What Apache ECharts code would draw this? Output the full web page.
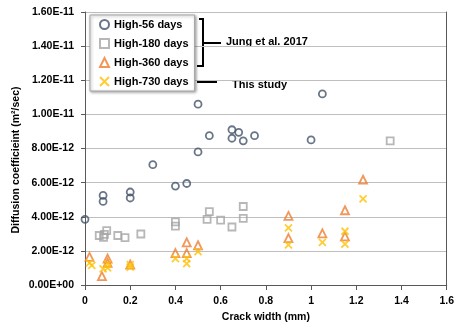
<!DOCTYPE html>
<html>
<head>
<meta charset="utf-8">
<script src="https://cdn.jsdelivr.net/npm/echarts@6/dist/echarts.min.js"></script>
<style>
  html, body { margin: 0; padding: 0; background: #fff; }
  #chart { width: 457px; height: 328px; }
</style>
</head>
<body>
<div id="chart"></div>
<script>
// values: [crack width (mm), diffusion coefficient in units of 1e-12 m2/sec]
const Y_UNIT = 1e-12;
const seriesNames = ["High-56 days", "High-180 days", "High-360 days", "High-730 days"];
const high56 = [
  [0, 3.85], [0.08, 5.25], [0.08, 4.9], [0.2, 5.45], [0.2, 5.1], [0.3, 7.05],
  [0.4, 5.8], [0.45, 5.95], [0.5, 10.6], [0.55, 8.75], [0.5, 7.8], [0.65, 9.1],
  [0.65, 8.6], [0.68, 8.95], [0.7, 8.45], [0.75, 8.75], [1.05, 11.2], [1.0, 8.5]
];
const high180 = [
  [0.063, 2.9], [0.086, 2.97], [0.096, 3.19], [0.082, 2.8], [0.145, 2.9], [0.177, 2.78],
  [0.247, 2.99], [0.4, 3.7], [0.4, 3.45], [0.55, 4.3], [0.54, 3.85], [0.6, 3.8],
  [0.65, 3.4], [0.7, 4.6], [0.7, 3.9], [1.35, 8.45]
];
const high360 = [
  [0.02, 1.65], [0.1, 1.55], [0.1, 1.3], [0.075, 0.52], [0.2, 1.2], [0.4, 1.87],
  [0.45, 2.5], [0.45, 1.87], [0.5, 2.33], [0.9, 4.05], [0.9, 2.75], [1.05, 3.03],
  [1.15, 4.38], [1.15, 2.85], [1.23, 6.17]
];
const high730 = [
  [0.02, 1.3], [0.03, 1.15], [0.08, 0.95], [0.1, 1.22], [0.1, 1.0], [0.2, 1.2],
  [0.2, 1.05], [0.4, 1.55], [0.45, 1.55], [0.45, 1.25], [0.5, 1.95], [0.9, 3.35],
  [0.9, 2.35], [1.05, 2.5], [1.15, 3.15], [1.15, 2.4], [1.23, 5.05]
];
const xTitle = "Crack width (mm)";
const yTitle = "Diffusion coefficieint (m\u00b2/sec)";

const FONT = "Liberation Sans";
const toSeries = (arr) => arr.map((p) => [p[0], p[1] * Y_UNIT]);

const fmtExp = (v) => {
  const s = Number(v).toExponential(2).toUpperCase();
  const [m, e] = s.split("E");
  const sign = e[0] === "-" ? "-" : "+";
  const digits = e.replace(/[+-]/, "").padStart(2, "0");
  return m + "E" + sign + digits;
};

const chart = echarts.init(document.getElementById("chart"));

const hollow = (color, width) => ({ color: "rgba(0,0,0,0)", borderColor: color, borderWidth: width });
const boldText = { fontFamily: FONT, fontWeight: "bold", fontSize: 10.5, color: "#000" };

chart.setOption({
  animation: false,
  textStyle: { fontFamily: FONT },
  grid: { left: 85, right: 7, top: 12, bottom: 39 },
  legend: {
    orient: "vertical",
    left: 90,
    top: 15,
    padding: [4, 6, 4, 9],
    itemGap: 8,
    itemWidth: 9,
    itemHeight: 9,
    backgroundColor: "#fff",
    borderColor: "#a6a6a6",
    borderWidth: 1,
    shadowColor: "rgba(0,0,0,0.35)",
    shadowBlur: 3,
    shadowOffsetX: 1,
    shadowOffsetY: 1,
    textStyle: Object.assign({}, boldText, { fontSize: 11 }),
    data: seriesNames
  },
  xAxis: {
    type: "value",
    min: 0,
    max: 1.6,
    interval: 0.2,
    name: xTitle,
    nameLocation: "middle",
    nameGap: 27,
    nameTextStyle: boldText,
    axisLine: { show: true, onZero: false, lineStyle: { color: "#595959", width: 1 } },
    axisTick: { show: true, length: 5, lineStyle: { color: "#595959" } },
    axisLabel: Object.assign({ margin: 11 }, boldText),
    splitLine: { show: false }
  },
  yAxis: [
    {
      type: "value",
      min: 0,
      max: 16e-12,
      interval: 2e-12,
      axisLine: { show: true, lineStyle: { color: "#595959", width: 1 } },
      axisTick: { show: true, length: 4, lineStyle: { color: "#595959" } },
      axisLabel: Object.assign({ margin: 11, formatter: fmtExp }, boldText),
      splitLine: { show: true, lineStyle: { color: "#bfbfbf", width: 1 } }
    },
    {
      type: "value",
      position: "right",
      min: 0,
      max: 16e-12,
      interval: 2e-12,
      axisLine: { show: true, lineStyle: { color: "#595959", width: 1 } },
      axisTick: { show: false },
      axisLabel: { show: false },
      splitLine: { show: false }
    }
  ],
  series: [
    {
      name: seriesNames[0], type: "scatter", symbol: "circle", symbolSize: 7,
      itemStyle: hollow("#44546a", 1.8), data: toSeries(high56)
    },
    {
      name: seriesNames[1], type: "scatter", symbol: "rect", symbolSize: 7,
      itemStyle: hollow("#a5a5a5", 1.8), data: toSeries(high180)
    },
    {
      name: seriesNames[2], type: "scatter", symbol: "triangle", symbolSize: 8,
      itemStyle: hollow("#ed7d31", 1.8), data: toSeries(high360)
    },
    {
      name: seriesNames[3], type: "scatter", symbol: "path://M0,0L10,10M10,0L0,10", symbolSize: 7,
      itemStyle: hollow("#ffc000", 1.8), data: toSeries(high730)
    }
  ],
  graphic: [
    // y axis title, centred a little below the plot middle as in the source
    { type: "text", x: 16, y: 160, rotation: Math.PI / 2,
      style: { text: yTitle, fontFamily: FONT, fontWeight: "bold", fontSize: 10.5, fill: "#000",
               align: "center", verticalAlign: "middle" } },
    { type: "polyline", shape: { points: [[199, 19], [203, 19], [203, 66], [197, 66]] },
      style: { stroke: "#000", lineWidth: 2, fill: null } },
    { type: "line", shape: { x1: 203, y1: 43, x2: 221, y2: 43 }, style: { stroke: "#000", lineWidth: 2 } },
    { type: "text", left: 226, top: 36,
      style: { text: "Jung et al. 2017", fontFamily: FONT, fontWeight: "bold", fontSize: 11, fill: "#000" } },
    { type: "line", shape: { x1: 197, y1: 82, x2: 217, y2: 82 }, style: { stroke: "#000", lineWidth: 2 } },
    { type: "text", left: 232, top: 79,
      style: { text: "This study", fontFamily: FONT, fontWeight: "bold", fontSize: 11, fill: "#000" } }
  ]
});
</script>
</body>
</html>
